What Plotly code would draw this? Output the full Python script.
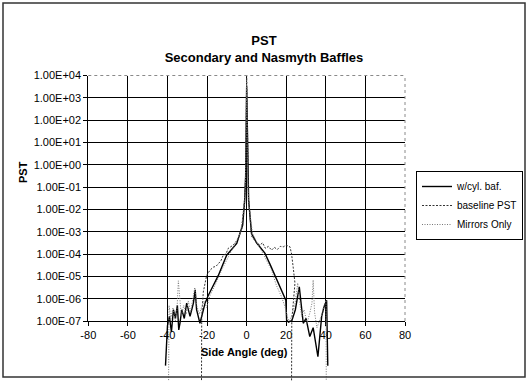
import plotly.graph_objects as go

# ---------------- data ----------------
# side angle (deg) and PST for each series
cyl_x = [-41.0, -40.0, -39.0, -38.0, -37.0, -36.0, -35.0, -34.3, -33.7, -32.8, -31.5, -30.3,
         -28.6, -26.9, -26.0, -25.3, -23.6, -22.7, -21.0, -19.4, -17.7, -14.3, -10.1, -5.0,
         -3.4, -2.0, -1.0, -0.5, 0.0, 0.5, 1.0, 2.0, 2.5, 5.0, 9.2, 12.0, 14.3, 16.0, 18.5,
         19.8, 20.2, 21.2, 22.9, 24.6, 26.6, 27.3, 28.6, 30.0, 31.1, 31.9, 33.6, 35.3, 36.0,
         37.9, 39.0, 40.4, 41.0]
cyl_y = [1e-9, 6.3e-8, 1.6e-7, 3.2e-8, 3.2e-7, 1.3e-7, 5.0e-7, 4.0e-8, 7.9e-8, 3.2e-7, 1.3e-7, 6.3e-7,
         1.6e-7, 6.3e-7, 2.5e-6, 3.2e-7, 7.9e-8, 1.8e-7, 6.3e-7, 1.4e-6, 2.8e-6, 1.1e-5, 8.9e-5, 3.0e-4,
         8.3e-4, 2.0e-3, 2.5e-2, 0.32, 3.2e3, 0.32, 2.5e-2, 2.5e-3, 8.3e-4, 3.2e-4, 1.1e-4, 3.2e-5, 1.1e-5,
         5.6e-6, 1.7e-6, 8.5e-7, 1.07e-7, 8.9e-8, 1.07e-7, 3.2e-7, 3.4e-6, 8.5e-7, 7.9e-8, 1.3e-7, 4.0e-8,
         2.0e-8, 5.0e-8, 6.3e-9, 2.5e-9, 1.6e-7, 4.0e-7, 8.5e-7, 1e-9]

base_x = [-22.9, -22.7, -21.9, -20.2, -18.5, -16.8, -15.5, -14.3, -13.0, -11.8, -10.5, -9.3, -6.8,
          -4.5, -2.5, -1.0, -0.5, 0.0, 0.5, 1.0, 2.5, 3.4, 5.0, 6.7, 8.0, 9.5, 11.0, 12.6, 14.0,
          15.5, 17.0, 18.5, 20.0, 21.9, 22.7, 23.5, 24.4, 22.8, 22.6]
base_y = [1e-12, 1.6e-7, 2.0e-6, 1.1e-5, 1.9e-5, 2.6e-5, 2.8e-5, 3.7e-5, 5.0e-5, 8.9e-5, 1.0e-4, 1.8e-4, 2.5e-4,
          4.5e-4, 1.3e-3, 3.2e-2, 0.4, 1e4, 0.4, 3.2e-2, 6.3e-4, 5.0e-4, 3.2e-4, 2.5e-4, 3.2e-4, 1.8e-4, 2.2e-4,
          1.5e-4, 2.0e-4, 1.6e-4, 2.2e-4, 2.1e-4, 2.5e-4, 2.1e-4, 1.0e-4, 2.6e-5, 5.0e-6, 1.0e-7, 1e-12]

mir_x = [-39.6, -39.2, -38.3, -37.2, -36.0, -35.2, -34.5, -33.9, -33.0, -31.8, -30.5, -29.5, -28.3,
         -27.2, -26.2, -25.2, -24.0, -22.8, -21.5, -20.2, -18.5, -15.5, -12.0, -8.5, -5.5, -3.0, -1.0,
         -0.5, 0.0, 0.5, 1.0, 3.0, 6.0, 9.5, 12.5, 15.0, 17.5, 19.5, 20.8, 21.8, 23.0, 24.5, 25.8, 26.6,
         27.8, 29.0, 30.5, 32.0, 33.0, 33.6, 34.3, 35.5, 36.8, 38.0, 39.4, 40.1, 40.3]
mir_y = [1e-12, 5.0e-7, 1.3e-7, 4.0e-7, 1.0e-7, 3.2e-7, 6.3e-6, 1.0e-6, 1.6e-7, 5.0e-7, 2.0e-7, 7.9e-7, 2.5e-7,
         1.0e-6, 3.2e-6, 5.0e-7, 2.0e-7, 4.0e-7, 7.9e-7, 4.0e-7, 1.4e-6, 5.0e-6, 2.5e-5, 1.0e-4, 3.2e-4, 1.0e-3,
         2.0e-2, 0.25, 6.3e3, 0.25, 2.0e-2, 7.9e-4, 2.5e-4, 7.1e-5, 2.0e-5, 4.0e-6, 1.3e-6, 4.0e-7, 1.3e-7,
         1.0e-7, 2.0e-7, 6.3e-7, 5.0e-6, 1.0e-6, 1.6e-7, 3.2e-7, 7.9e-8, 2.5e-7, 6.3e-7, 6.8e-6, 2.5e-7,
         5.0e-8, 1.0e-7, 2.0e-7, 6.3e-7, 8.5e-7, 1e-12]

series_names = ["w/cyl. baf.", "baseline PST", "Mirrors Only"]

x_ticks = [-80, -60, -40, -20, 0, 20, 40, 60, 80]
x_tick_text = ["-80", "-60", "-40", "-20", "0", "20", "40", "60", "80"]
y_ticks = [1e-7, 1e-6, 1e-5, 1e-4, 1e-3, 1e-2, 1e-1, 1e0, 1e1, 1e2, 1e3, 1e4]
y_tick_text = ["1.00E-07", "1.00E-06", "1.00E-05", "1.00E-04", "1.00E-03", "1.00E-02",
               "1.00E-01", "1.00E+00", "1.00E+01", "1.00E+02", "1.00E+03", "1.00E+04"]

title_text = "<b>PST<br>Secondary and Nasmyth Baffles</b>"
x_title = "<b>Side Angle (deg)</b>"
y_title = "<b>PST</b>"

# ---------------- layout geometry ----------------
W, H = 528, 381
L, R, T, B = 88.3, 405.0, 75.5, 321.0          # plot area in pixels
X0, X1 = -80, 80
Y0, Y1 = -7, 4                                 # log10 range

ppu = (R - L) / (X1 - X0)
ppd = (B - T) / (Y1 - Y0)
x2_range = [X0 - L / ppu, X1 + (W - R) / ppu]
y2_range = [Y0 - (H - B) / ppd, Y1 + T / ppd]

FONT = "Liberation Sans, Arial, sans-serif"

fig = go.Figure()
# empty trace so the framed grid subplot (x, y) is created
fig.add_trace(go.Scatter(x=[], y=[], xaxis="x", yaxis="y", showlegend=False, hoverinfo="skip"))

styles = [dict(color="black", width=1.4, dash="solid"),
          dict(color="#333333", width=1.0, dash="2px,1.5px"),
          dict(color="#777777", width=1.0, dash="1px,1.5px")]
for name, xs, ys, st in zip(series_names, [cyl_x, base_x, mir_x], [cyl_y, base_y, mir_y], styles):
    fig.add_trace(go.Scatter(x=xs, y=ys, mode="lines", name=name, line=st,
                             xaxis="x2", yaxis="y2", hoverinfo="skip"))

axis_common = dict(showgrid=True, gridcolor="black", gridwidth=1, showline=True,
                   linecolor="black", linewidth=1, ticks="outside", ticklen=4,
                   tickcolor="black", tickwidth=1, zeroline=False, automargin=False,
                   tickfont=dict(family=FONT, size=11, color="black"))

fig.update_layout(
    width=W, height=H, autosize=False,
    margin=dict(l=0, r=0, t=0, b=0, pad=0),
    paper_bgcolor="white", plot_bgcolor="rgba(0,0,0,0)",
    title=dict(text=title_text, x=0.5, xanchor="center", xref="paper",
               y=1 - 45 / H, yanchor="middle", yref="paper", automargin=False,
               font=dict(family=FONT, size=13, color="black")),
    xaxis=dict(domain=[L / W, R / W], range=[X0, X1], anchor="y",
               tickmode="array", tickvals=x_ticks, ticktext=x_tick_text, **axis_common),
    yaxis=dict(domain=[1 - B / H, 1 - T / H], range=[Y0, Y1], type="log", anchor="x",
               tickmode="array", tickvals=y_ticks, ticktext=y_tick_text, **axis_common),
    xaxis2=dict(domain=[0, 1], range=x2_range, anchor="y2", visible=False, automargin=False),
    yaxis2=dict(domain=[0, 1], range=y2_range, type="log", anchor="x2", visible=False,
                automargin=False),
    showlegend=True,
    legend=dict(x=416 / W, y=1 - 171 / H, xanchor="left", yanchor="top",
                bgcolor="white", bordercolor="black", borderwidth=1,
                font=dict(family=FONT, size=10, color="black"),
                itemwidth=30, tracegroupgap=0),
    shapes=[
        dict(type="line", xref="x domain", yref="y domain", x0=0, x1=1, y0=1, y1=1,
             line=dict(color="#8a8a8a", width=1, dash="dot")),
        dict(type="line", xref="x domain", yref="y domain", x0=1, x1=1, y0=0, y1=1,
             line=dict(color="#8a8a8a", width=1, dash="dot")),
        dict(type="rect", xref="paper", yref="paper", x0=3 / W, x1=525 / W,
             y0=1 - 377 / H, y1=1 - 3 / H, line=dict(color="#333333", width=1.5)),
    ],
    annotations=[
        dict(text=y_title, xref="paper", yref="paper", x=23 / W, y=1 - 172 / H,
             textangle=-90, showarrow=False, xanchor="center", yanchor="middle",
             font=dict(family=FONT, size=11, color="black")),
        dict(text=x_title, xref="paper", yref="paper", x=244 / W, y=1 - 352 / H,
             showarrow=False, xanchor="center", yanchor="middle",
             font=dict(family=FONT, size=11, color="black")),
    ],
)

fig.write_html("out.html", config={"displayModeBar": False},
               post_script="document.body.style.margin='0px';document.body.style.overflow='hidden';")
